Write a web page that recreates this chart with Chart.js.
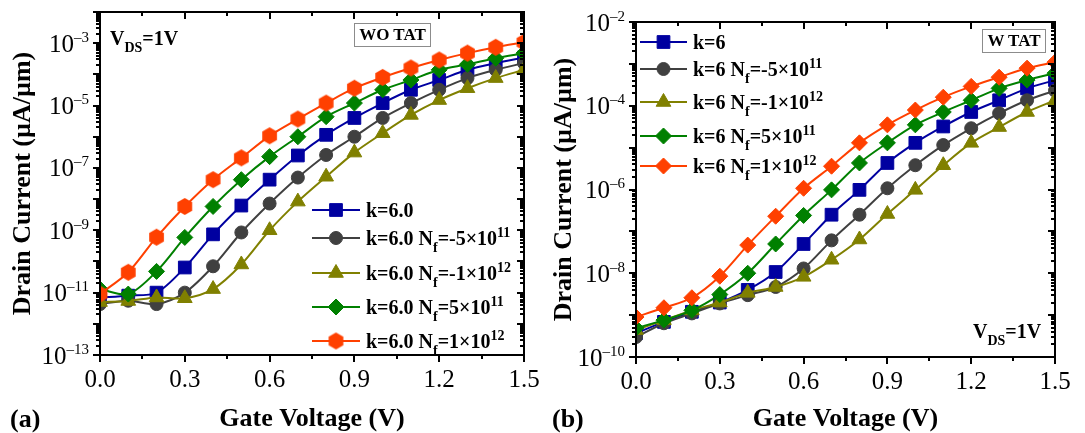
<!DOCTYPE html>
<html><head><meta charset="utf-8">
<script src="https://cdn.jsdelivr.net/npm/chart.js@4.4.0/dist/chart.umd.min.js"></script>
<style>
html,body{margin:0;padding:0;background:#fff;}
#wrap{position:relative;width:1085px;height:433px;overflow:hidden;font-family:"Liberation Serif","Times New Roman",serif;background:#fff;}
canvas{position:absolute;top:0;}
.t{position:absolute;white-space:nowrap;font-weight:bold;color:#000;}
.sb{position:relative;font-size:14px;top:7px;}
.sp{position:relative;font-size:14px;top:-8px;}
.box{position:absolute;border:1px solid #8c8c8c;box-sizing:border-box;font-weight:bold;font-size:17px;line-height:22px;text-align:center;color:#000;white-space:nowrap;}
</style></head>
<body><div id="wrap">
<canvas id="ca" width="540" height="433" style="left:0px"></canvas>
<canvas id="cb" width="545" height="433" style="left:540px"></canvas>
</div>
<script>
// ---------- data ----------
const gateVoltage = [0,0.1,0.2,0.3,0.4,0.5,0.6,0.7,0.8,0.9,1.0,1.1,1.2,1.3,1.4,1.5];

// (a) WO TAT
const woTat_k6      = [7e-12,8e-12,1e-11,6.4e-11,7.4e-10,6.2e-9,4.2e-8,2.5e-7,1.15e-6,4e-6,1.2e-5,3.2e-5,6.6e-5,1.4e-4,2.3e-4,3.5e-4];
const woTat_Nfm5e11 = [4.3e-12,5.5e-12,4.3e-12,1e-11,7e-11,8.5e-10,7.2e-9,4.9e-8,2.6e-7,1e-6,4e-6,1.2e-5,3.2e-5,7.6e-5,1.4e-4,2.3e-4];
const woTat_Nfm1e12 = [5e-12,5.4e-12,7e-12,6.6e-12,1.3e-11,8e-11,1e-9,8.3e-9,5.2e-8,3.1e-7,1.3e-6,5e-6,1.5e-5,3.6e-5,7.6e-5,1.4e-4];
const woTat_Nf5e11  = [1.3e-11,9e-12,4.8e-11,5.9e-10,5.8e-9,4.2e-8,2.3e-7,1e-6,4.4e-6,1.2e-5,3.2e-5,6.6e-5,1.4e-4,2.1e-4,3.3e-4,4.8e-4];
const woTat_Nf1e12  = [9e-12,4.5e-11,6e-10,5.8e-9,4.2e-8,2.1e-7,1.07e-6,3.7e-6,1.2e-5,3.6e-5,8e-5,1.6e-4,2.9e-4,4.8e-4,7.4e-4,1.07e-3];

// (b) W TAT
const wTat_k6      = [3.7e-10,6.9e-10,1.2e-9,2e-9,4e-9,1.07e-8,5e-8,2.5e-7,9.8e-7,4.3e-6,1.3e-5,3.2e-5,7.1e-5,1.35e-4,2.6e-4,4.1e-4];
const wTat_Nfm5e11 = [3e-10,6.4e-10,1.1e-9,1.9e-9,3e-9,4.7e-9,1.3e-8,6.1e-8,2.5e-7,1.07e-6,3.8e-6,1.15e-5,2.9e-5,6.6e-5,1.35e-4,2.3e-4];
const wTat_Nfm1e12 = [4.4e-10,7.6e-10,1.3e-9,2e-9,3.4e-9,4.7e-9,8.2e-9,2.1e-8,6.4e-8,2.6e-7,9.8e-7,3.8e-6,1.3e-5,3.1e-5,7.1e-5,1.35e-4];
const wTat_Nf5e11  = [4.9e-10,7.6e-10,1.3e-9,3.1e-9,1e-8,5e-8,2.4e-7,9.8e-7,4.3e-6,1.3e-5,3.5e-5,7.1e-5,1.35e-4,2.6e-4,4.1e-4,6e-4];
const wTat_Nf1e12  = [9e-10,1.5e-9,2.6e-9,8.5e-9,4.7e-8,2.3e-7,1.07e-6,3.6e-6,1.3e-5,3.5e-5,7.9e-5,1.6e-4,2.9e-4,4.8e-4,7.9e-4,1.1e-3];

const labelsA = ['k=6.0','k=6.0 N<span class="sb">f</span>=-5×10<span class="sp">11</span>','k=6.0 N<span class="sb">f</span>=-1×10<span class="sp">12</span>','k=6.0 N<span class="sb">f</span>=5×10<span class="sp">11</span>','k=6.0 N<span class="sb">f</span>=1×10<span class="sp">12</span>'];
const labelsB = ['k=6','k=6 N<span class="sb">f</span>=-5×10<span class="sp">11</span>','k=6 N<span class="sb">f</span>=-1×10<span class="sp">12</span>','k=6 N<span class="sb">f</span>=5×10<span class="sp">11</span>','k=6 N<span class="sb">f</span>=1×10<span class="sp">12</span>'];

const xTickValues = [0,0.3,0.6,0.9,1.2,1.5];
const xTickLabels = ['0.0','0.3','0.6','0.9','1.2','1.5'];
const yExpLabelsA = [-3,-5,-7,-9,-11,-13];
const yExpLabelsB = [-2,-4,-6,-8,-10];

// ---------- styles ----------
const COLORS = ['#0000A0','#404040','#808000','#008000','#FF4000'];
function hexCanvas(color, r){
  const s = Math.ceil(2*r+2); const c = document.createElement('canvas'); c.width=s; c.height=s;
  const g = c.getContext('2d'); g.fillStyle=color; g.beginPath();
  for(let i=0;i<6;i++){const a=-Math.PI/2+i*Math.PI/3; const x=s/2+r*Math.cos(a), y=s/2+r*Math.sin(a); i?g.lineTo(x,y):g.moveTo(x,y);}
  g.closePath(); g.fill(); return c;
}
const hexImg = hexCanvas(COLORS[4], 8.5);

function ds(label, data, color, style, radius, order){
  return {label, data: data.map((v,i)=>({x:gateVoltage[i], y:v})), borderColor:color, backgroundColor:color,
    pointStyle:style, pointRadius:radius, pointHoverRadius:radius, pointBorderWidth:1, pointBorderColor:color, pointBackgroundColor:color,
    borderWidth:2, tension:0.3, order, clip:0, fill:false};
}

const wrap = document.getElementById('wrap');
function addText(html, x, baseline, size){
  const d=document.createElement('div'); d.className='t';
  d.style.left=x+'px'; d.style.top=(baseline-0.8375*size)+'px'; d.style.fontSize=size+'px'; d.style.lineHeight=size+'px';
  d.innerHTML=html; wrap.appendChild(d); return d;
}
function addBox(text, x, y, w, h){
  const d=document.createElement('div'); d.className='box';
  d.style.left=x+'px'; d.style.top=y+'px'; d.style.width=w+'px'; d.style.height=h+'px';
  d.textContent=text; wrap.appendChild(d);
}

function drawMarker(ctx, style, r, x, y, color){
  ctx.fillStyle=color; ctx.strokeStyle=color; ctx.lineWidth=1;
  if (Chart.helpers && Chart.helpers.drawPoint){
    Chart.helpers.drawPoint(ctx, {pointStyle:style, radius:r, borderWidth:1, rotation:0}, x, y);
    return;
  }
  if (style instanceof HTMLCanvasElement){ ctx.drawImage(style, x-style.width/2, y-style.height/2); return; }
  ctx.beginPath();
  if(style==='rect'){const s=r*Math.SQRT1_2; ctx.rect(x-s,y-s,2*s,2*s);}
  else if(style==='circle'){ctx.arc(x,y,r,0,Math.PI*2);}
  else if(style==='triangle'){ctx.moveTo(x,y-r);ctx.lineTo(x+r*0.866,y+r/2);ctx.lineTo(x-r*0.866,y+r/2);ctx.closePath();}
  else if(style==='rectRot'){ctx.moveTo(x-r,y);ctx.lineTo(x,y-r);ctx.lineTo(x+r,y);ctx.lineTo(x,y+r);ctx.closePath();}
  ctx.fill(); ctx.stroke();
}

function framePlugin(cfg){
  return {
    id:'frame'+cfg.id,
    afterDraw(chart){
      const ctx=chart.ctx, a=chart.chartArea, xs=chart.scales.x, ys=chart.scales.y;
      ctx.save();
      // legend
      cfg.legendRows.forEach((y,i)=>{
        const d=chart.data.datasets[i];
        ctx.strokeStyle=d.borderColor; ctx.lineWidth=2;
        ctx.beginPath(); ctx.moveTo(cfg.legX0,y); ctx.lineTo(cfg.legX1,y); ctx.stroke();
        drawMarker(ctx, d.pointStyle, d.pointRadius, (cfg.legX0+cfg.legX1)/2, y, d.borderColor);
      });
      // frame
      ctx.strokeStyle='#000'; ctx.lineWidth=2;
      ctx.strokeRect(a.left, a.top, a.right-a.left, a.bottom-a.top);
      const seg=(x1,y1,x2,y2,w)=>{ctx.lineWidth=w;ctx.beginPath();ctx.moveTo(x1,y1);ctx.lineTo(x2,y2);ctx.stroke();};
      // x ticks (major 0.3, minor 0.15)
      for(let i=0;i<=10;i++){
        const px=Math.round(xs.getPixelForValue(i*0.15)); const major=i%2===0; const L=major?7:4;
        seg(px,a.bottom,px,a.bottom+L,2); seg(px,a.top,px,a.top+L,2);
      }
      // y ticks (log)
      for(let e=cfg.yMinExp;e<=cfg.yMaxExp;e++){
        for(let m=1;m<=9;m++){
          if(e===cfg.yMaxExp && m>1) break;
          const py=Math.round(ys.getPixelForValue(m*Math.pow(10,e))); const major=m===1; const L=major?7:4;
          seg(a.left-L,py,a.left,py,2); seg(a.right-L,py,a.right,py,2);
        }
      }
      // labels
      ctx.fillStyle='#000'; ctx.textBaseline='alphabetic';
      ctx.font='25px "Liberation Serif"'; ctx.textAlign='center';
      xTickValues.forEach((v,i)=>ctx.fillText(xTickLabels[i], xs.getPixelForValue(v), a.bottom+32));
      ctx.textAlign='left';
      cfg.yLabels.forEach(e=>{
        const py=ys.getPixelForValue(Math.pow(10,e));
        const expTxt='–'+String(-e);
        ctx.font='15px "Liberation Serif"'; const ew=ctx.measureText(expTxt).width;
        ctx.font='25px "Liberation Serif"'; const mw=ctx.measureText('10').width;
        const right=a.left-11;
        ctx.fillText('10', right-ew-mw, py+8.5);
        ctx.font='15px "Liberation Serif"'; ctx.fillText(expTxt, right-ew, py-1.5);
      });
      ctx.restore();
    }
  };
}

function makeChart(canvas, datasets, cfg){
  return new Chart(canvas, {
    type:'line',
    data:{datasets},
    options:{
      responsive:false, animation:false, events:[],
      layout:{padding:{top:cfg.top,right:cfg.rightPad,left:0,bottom:0}},
      plugins:{legend:{display:false},tooltip:{enabled:false}},
      scales:{
        x:{type:'linear',min:0,max:1.5,grid:{display:false,drawTicks:false},border:{display:false},ticks:{display:false},
          title:{display:true,text:'Gate Voltage (V)',color:'#000',font:{family:'Liberation Serif',size:26,weight:'bold',lineHeight:1},padding:{top:0,bottom:1}},
          afterFit(s){s.height=433-cfg.bottom;}},
        y:{type:'logarithmic',min:Math.pow(10,cfg.yMinExp),max:Math.pow(10,cfg.yMaxExp),grid:{display:false,drawTicks:false},border:{display:false},ticks:{display:false},
          title:{display:true,text:'Drain Current (µA/µm)',color:'#000',font:{family:'Liberation Serif',size:26,weight:'bold',lineHeight:1},padding:{top:cfg.yTitlePad,bottom:0}},
          afterFit(s){s.width=cfg.left;}}
      }
    },
    plugins:[framePlugin(cfg)]
  });
}

// chart (a)
makeChart(document.getElementById('ca'), [
  ds('k=6.0', woTat_k6, COLORS[0], 'rect', 9, 4),
  ds('k=6.0 Nf=-5x10^11', woTat_Nfm5e11, COLORS[1], 'circle', 6.5, 3),
  ds('k=6.0 Nf=-1x10^12', woTat_Nfm1e12, COLORS[2], 'triangle', 8.5, 2),
  ds('k=6.0 Nf=5x10^11', woTat_Nf5e11, COLORS[3], 'rectRot', 8, 1),
  ds('k=6.0 Nf=1x10^12', woTat_Nf1e12, COLORS[4], hexImg, 8.5, 0)
], {id:'a', top:12, left:100, rightPad:16, bottom:355, yMinExp:-13, yMaxExp:-2, yTitlePad:10.5,
    yLabels:yExpLabelsA, legendRows:[210,238,273,307,341], legX0:312, legX1:360});

// chart (b)
makeChart(document.getElementById('cb'), [
  ds('k=6', wTat_k6, COLORS[0], 'rect', 9, 4),
  ds('k=6 Nf=-5x10^11', wTat_Nfm5e11, COLORS[1], 'circle', 6.5, 3),
  ds('k=6 Nf=-1x10^12', wTat_Nfm1e12, COLORS[2], 'triangle', 8.5, 2),
  ds('k=6 Nf=5x10^11', wTat_Nf5e11, COLORS[3], 'rectRot', 8, 1),
  ds('k=6 Nf=1x10^12', wTat_Nf1e12, COLORS[4], 'rectRot', 8, 0)
], {id:'b', top:22, left:96, rightPad:30, bottom:357, yMinExp:-10, yMaxExp:-2, yTitlePad:11,
    yLabels:yExpLabelsB, legendRows:[42,69,102,136,166], legX0:100, legX1:147});

// text overlays
labelsA.forEach((h,i)=>addText(h, 366, [210,238,273,307,341][i]+7, 20));
labelsB.forEach((h,i)=>addText(h, 693, [42,69,102,136,166][i]+7, 20));
addText('V<span class="sb">DS</span>=1V', 110, 45, 20);
addText('V<span class="sb">DS</span>=1V', 973, 338, 20);
addBox('WO TAT', 354, 23, 77, 24);
addBox('W TAT', 982, 29, 64, 24);
addText('(a)', 10, 428, 26);
addText('(b)', 552, 428, 26);
</script>
</body></html>
